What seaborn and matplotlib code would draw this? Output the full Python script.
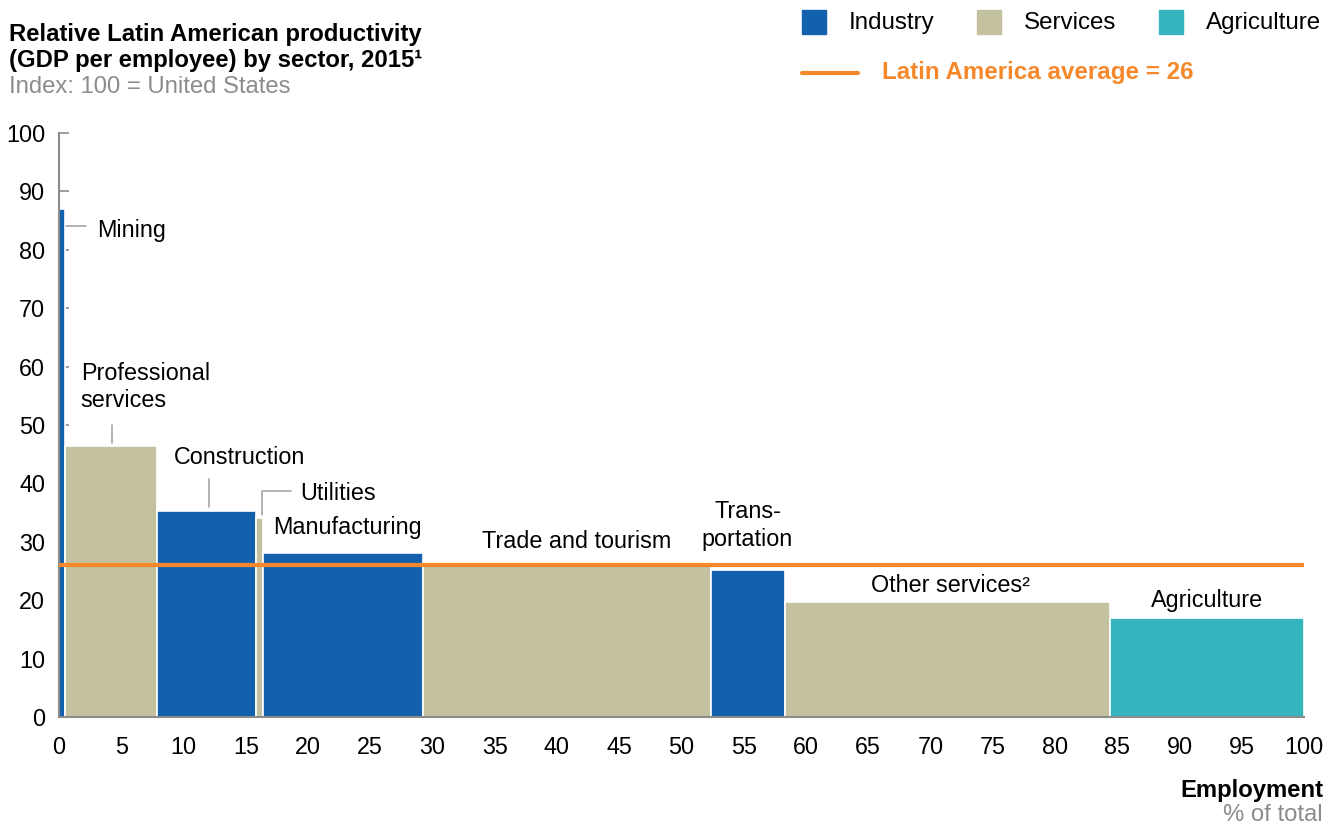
import numpy as np
import pandas as pd
import matplotlib
matplotlib.use("Agg")
import matplotlib.pyplot as plt
from matplotlib.patches import Rectangle
from matplotlib.lines import Line2D
import seaborn as sns

# ---------------- data
sectors = ["Mining", "Professional services", "Construction", "Utilities",
           "Manufacturing", "Trade and tourism", "Transportation",
           "Other services", "Agriculture"]
groups = ["Industry", "Services", "Industry", "Services", "Industry",
          "Services", "Industry", "Services", "Agriculture"]
employment = [0.5, 7.4, 7.9, 0.6, 12.8, 23.2, 5.9, 26.1, 15.6]   # % of total
productivity = [87, 46.4, 35.3, 34.1, 28.1, 26.3, 25.2, 19.7, 17.0]  # index US = 100
latam_avg = 26

df = pd.DataFrame({"sector": sectors, "group": groups,
                   "width": employment, "value": productivity})
df["left"] = df["width"].cumsum() - df["width"]

palette = {"Industry": "#1360ad", "Services": "#c4c1a0", "Agriculture": "#35b4be"}
orange = "#f5882a"
grey = "#8c8c8c"

sns.set_theme(style="white")
plt.rcParams["font.family"] = ["Liberation Sans", "DejaVu Sans"]
plt.rcParams["text.color"] = "black"
plt.rcParams["xtick.color"] = "black"
plt.rcParams["ytick.color"] = "black"

fig = plt.figure(figsize=(13.41, 8.24), dpi=100)
ax = fig.add_axes([59 / 1341, 1 - 717 / 824, (1304 - 59) / 1341, (717 - 133) / 824])

ax.bar(df["left"], df["value"], width=df["width"], align="edge",
       color=[palette[g] for g in df["group"]], edgecolor="white", linewidth=1.2, zorder=2)
ax.axhline(latam_avg, color=orange, lw=3, zorder=3)

ax.set_xlim(0, 100)
ax.set_ylim(0, 100)
ax.set_xticks(np.arange(0, 101, 5))
ax.set_yticks(np.arange(0, 101, 10))
ax.tick_params(axis="x", length=0, pad=14, labelsize=16.8, labelcolor="black")
ax.tick_params(axis="y", direction="in", length=7, width=1.2, color=grey, pad=10,
               labelsize=16.8, labelcolor="black", left=True)
sns.despine(ax=ax)
for s in ["left", "bottom"]:
    ax.spines[s].set_color(grey)
    ax.spines[s].set_linewidth(1.5)

# ---------------- sector labels and leader lines
fs = 16.8
lc = "#a6a6a6"
ax.text(3.1, 83.3, "Mining", fontsize=fs, va="center", ha="left")
ax.plot([0.6, 2.2], [84.1, 84.1], color=lc, lw=1.2, clip_on=False)
ax.text(1.75, 56.5, "Professional\nservices", fontsize=fs, va="center", ha="left", linespacing=1.25)
ax.plot([4.25, 4.25], [46.9, 50.0], color=lc, lw=1.2)
ax.text(9.2, 44.5, "Construction", fontsize=fs, va="center", ha="left")
ax.plot([12.05, 12.05], [35.9, 40.8], color=lc, lw=1.2)
ax.text(19.4, 38.2, "Utilities", fontsize=fs, va="center", ha="left")
ax.plot([16.3, 16.3, 18.6], [34.6, 38.7, 38.7], color=lc, lw=1.2)
ax.text(23.2, 32.4, "Manufacturing", fontsize=fs, va="center", ha="center")
ax.text(41.6, 30.1, "Trade and tourism", fontsize=fs, va="center", ha="center")
ax.text(55.3, 32.8, "Trans-\nportation", fontsize=fs, va="center", ha="center", linespacing=1.25)
ax.text(71.6, 22.6, "Other services\u00b2", fontsize=fs, va="center", ha="center")
ax.text(92.2, 19.9, "Agriculture", fontsize=fs, va="center", ha="center")

# ---------------- titles
W, H = 1341, 824
def fx(px): return px / W
def fy(py): return 1 - py / H

fig.text(fx(9), fy(34), "Relative Latin American productivity", fontsize=17.2, fontweight="bold", va="center")
fig.text(fx(9), fy(60), "(GDP per employee) by sector, 2015\u00b9", fontsize=17.2, fontweight="bold", va="center")
fig.text(fx(9), fy(87), "Index: 100 = United States", fontsize=17.2, color=grey, va="center")

fig.text(fx(1323), fy(790), "Employment", fontsize=17.2, fontweight="bold", ha="right", va="center")
fig.text(fx(1323), fy(815), "% of total", fontsize=17.2, color=grey, ha="right", va="center")

# ---------------- legend
for (x0, lab, tx) in [(802, "Industry", 849), (977, "Services", 1024), (1159, "Agriculture", 1206)]:
    fig.add_artist(Rectangle((fx(x0), fy(34)), 24 / W, 24 / H, transform=fig.transFigure,
                             color=palette[lab]))
    fig.text(fx(tx), fy(23), lab, fontsize=17.4, va="center")
fig.add_artist(Line2D([fx(802), fx(858)], [fy(73), fy(73)], transform=fig.transFigure,
                      color=orange, lw=3))
fig.text(fx(882), fy(73), "Latin America average = 26", fontsize=17.4, fontweight="bold",
         color=orange, va="center")

fig.savefig("out.png", dpi=100)
